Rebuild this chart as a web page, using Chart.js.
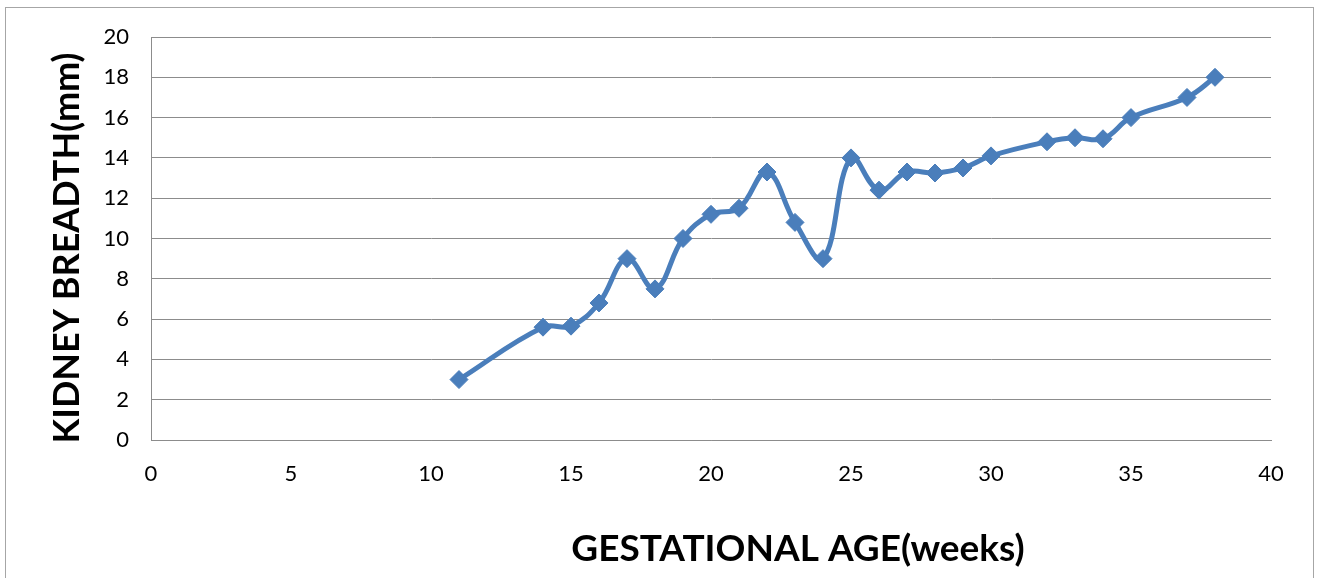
<!DOCTYPE html>
<html lang="en">
<head>
    <meta charset="UTF-8">
    <title>Kidney Breadth vs Gestational Age</title>
    <script src="https://cdn.jsdelivr.net/npm/chart.js"></script>
    <style>
        body { margin: 0; background: #fff; }
        canvas { display: block; }
    </style>
</head>
<body>
    <canvas id="kidneyChart" width="1322" height="578"></canvas>
    <script>
        // values
        const weeks = [11, 14, 15, 16, 17, 18, 19, 20, 21, 22, 23, 24, 25, 26, 27, 28, 29, 30, 32, 33, 34, 35, 37, 38];
        const breadth = [3.0, 5.6, 5.65, 6.8, 9.0, 7.5, 10.0, 11.2, 11.5, 13.3, 10.8, 9.0, 14.0, 12.4, 13.3, 13.25, 13.5, 14.1, 14.8, 15.0, 14.95, 16.0, 17.0, 18.0];
        const xTitle = 'GESTATIONAL AGE(weeks)';
        const yTitle = 'KIDNEY BREADTH(mm)';

        const lineBlue = '#4a7ebb';
        const gridGray = '#8c8c8c';
        const fontFam = 'Lato, "Open Sans", sans-serif';

        // outer frame + axis titles
        const frameAndTitles = {
            id: 'frameAndTitles',
            beforeDraw(chart) {
                const ctx = chart.ctx;
                ctx.save();
                ctx.strokeStyle = '#a6a6a6';
                ctx.lineWidth = 1;
                ctx.strokeRect(5.5, 7.5, 1308, 600);
                ctx.restore();
            },
            afterDraw(chart) {
                const ctx = chart.ctx;
                ctx.save();
                ctx.fillStyle = '#000';
                ctx.textAlign = 'center';
                ctx.textBaseline = 'middle';
                ctx.font = 'bold 37px ' + fontFam;
                ctx.fillText(xTitle, 798, 549);
                ctx.translate(67, 248);
                ctx.rotate(-Math.PI / 2);
                ctx.font = 'bold 36px ' + fontFam;
                ctx.fillText(yTitle, 0, 0);
                ctx.restore();
            }
        };

        const ctx = document.getElementById('kidneyChart').getContext('2d');
        new Chart(ctx, {
            type: 'line',
            data: {
                datasets: [{
                    data: weeks.map((w, i) => ({ x: w, y: breadth[i] })),
                    borderColor: lineBlue,
                    backgroundColor: lineBlue,
                    borderWidth: 5,
                    tension: 0.4,
                    pointStyle: 'rectRot',
                    pointRadius: 9,
                    pointHoverRadius: 9,
                    pointBorderWidth: 1
                }]
            },
            options: {
                responsive: false,
                animation: false,
                layout: { padding: { left: 0, right: 51, top: 37, bottom: 0 } },
                plugins: { legend: { display: false }, tooltip: { enabled: false } },
                scales: {
                    x: {
                        type: 'linear',
                        min: 0,
                        max: 40,
                        ticks: { stepSize: 5, color: '#000', padding: 13, font: { family: fontFam, size: 22 } },
                        grid: { display: false },
                        border: { display: true, color: gridGray, width: 1 },
                        afterFit(scale) { scale.height = 578 - 440; }
                    },
                    y: {
                        min: 0,
                        max: 20,
                        ticks: { stepSize: 2, color: '#000', padding: 22, font: { family: fontFam, size: 22 } },
                        grid: { color: gridGray, drawTicks: false },
                        border: { display: true, color: gridGray, width: 1 },
                        afterFit(scale) { scale.width = 151; }
                    }
                }
            },
            plugins: [frameAndTitles]
        });
    </script>
</body>
</html>
